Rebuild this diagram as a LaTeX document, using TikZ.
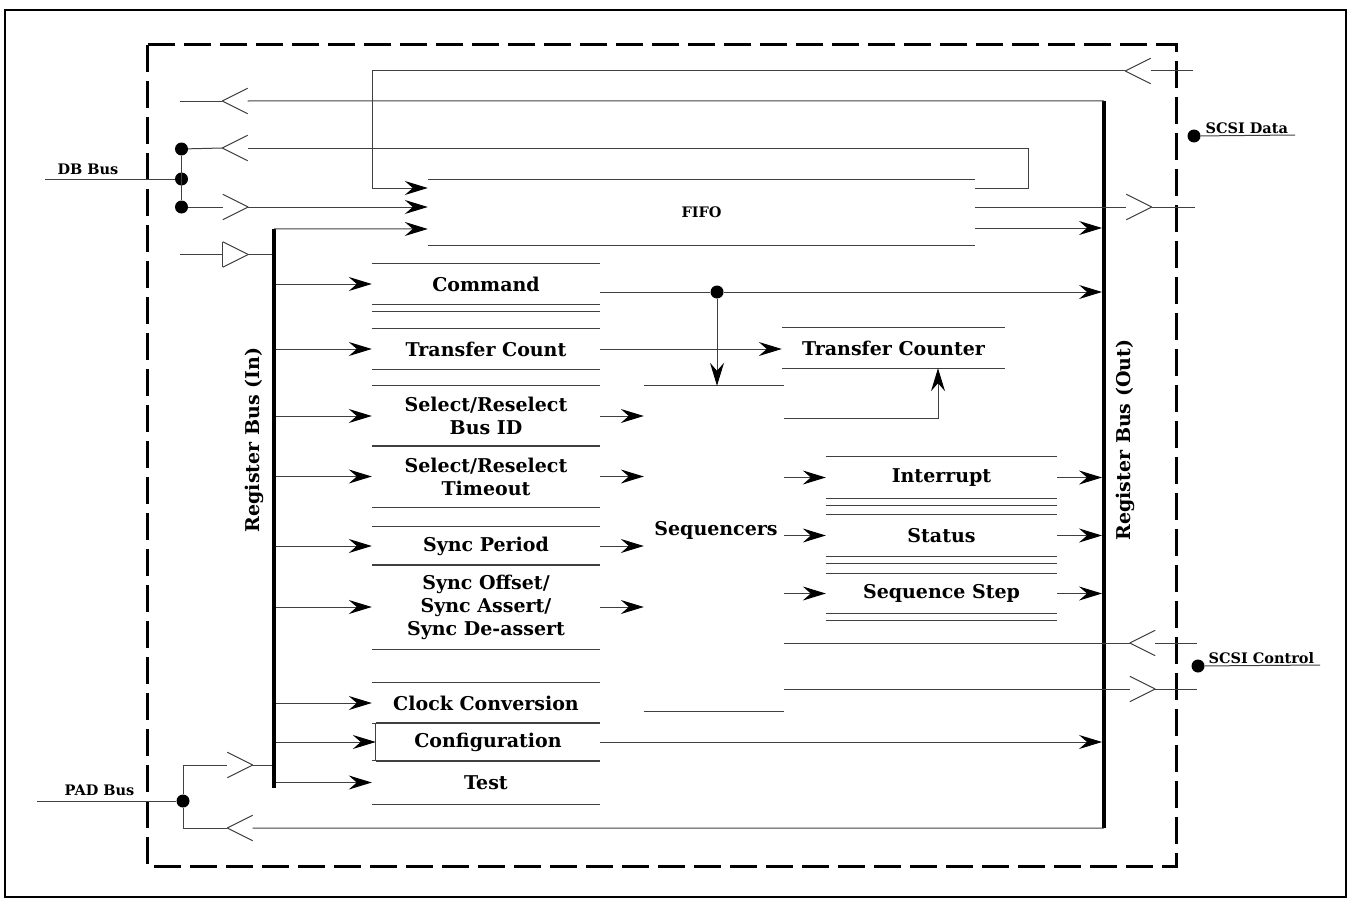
\documentclass[tikz,border=0pt]{standalone}
\usepackage{fontspec}
\setmainfont{DejaVu Serif}
\usetikzlibrary{arrows.meta}
\tikzset{
  >={Stealth[length=23pt,width=14pt,inset=8pt,black]},
  ln/.style={draw=black!75, line width=1pt},
  bus/.style={fill=black, inner sep=0pt, minimum width=3.5pt},
  tx/.style={font=\fontsize{19}{23}\selectfont\bfseries, align=center},
  sm/.style={font=\fontsize{14.5}{17}\selectfont\bfseries},
  jn/.style={circle, fill=black, inner sep=0pt, minimum size=13pt},
  rg/.style 2 args={tx, inner sep=0pt, minimum width=#1, minimum height=#2,
    append after command={(\tikzlastnode.north west) edge[ln] (\tikzlastnode.north east)
      (\tikzlastnode.south west) edge[ln] (\tikzlastnode.south east)}},
  dbl/.style={append after command={([yshift=-7pt]\tikzlastnode.south west) edge[ln] ([yshift=-7pt]\tikzlastnode.south east)}},
  bf/.style={inner sep=0pt, minimum size=25pt},
  bl/.style={bf, append after command={(\tikzlastnode.north east) edge[ln] (\tikzlastnode.west)
      (\tikzlastnode.west) edge[ln] (\tikzlastnode.south east)}},
  br/.style={bf, append after command={(\tikzlastnode.north west) edge[ln] (\tikzlastnode.east)
      (\tikzlastnode.east) edge[ln] (\tikzlastnode.south west)}},
  bc/.style={br, append after command={(\tikzlastnode.north west) edge[ln] (\tikzlastnode.south west)}}
}
\begin{document}
\begin{tikzpicture}[x=1pt, y=-1pt]
  \useasboundingbox (0,0) rectangle (1352,899);
  \draw[line width=2.5pt] (5,10) rectangle (1346,897);
  \draw[line width=3pt, dash pattern=on 27pt off 9pt] (147,45) rectangle (1176,866);

  \node[bus, minimum height=559pt] (rbi) at (274,508.5) {};
  \node[bus, minimum height=727pt] (rbo) at (1104,464.5) {};
  \node[tx, rotate=90] (rbil) at (254,440) {Register Bus (In)};
  \node[tx, rotate=90] (rbol) at (1125,440) {Register Bus (Out)};

  \node[rg={547pt}{65pt}, sm] (fifo) at (701.5,212.5) {FIFO};
  \node[rg={228pt}{40pt}, dbl] (cmd) at (486,284) {Command};
  \node[rg={228pt}{40pt}] (tcnt) at (486,349) {Transfer Count};
  \node[rg={228pt}{60pt}] (sbid) at (486,416) {Select/Reselect\\Bus ID};
  \node[rg={228pt}{61pt}] (stmo) at (486,476.5) {Select/Reselect\\Timeout};
  \node[rg={228pt}{38pt}] (sper) at (486,546) {Sync Period};
  \node[rg={228pt}{84pt}] (soff) at (486,607) {Sync Offset/\\Sync Assert/\\Sync De-assert};
  \node[rg={228pt}{40pt}] (clk) at (486,703) {Clock Conversion};
  \node[rg={224pt}{38pt}] (cfg) at (488,742) {Configuration};
  \node[rg={228pt}{43pt}] (test) at (486,782.5) {Test};
  \draw[ln] (cfg.north west) -- (cfg.south west);

  \node[rg={140pt}{325pt}] (seq) at (714,548.5) {};
  \node[tx] (seql) at (716,530) {Sequencers};
  \node[rg={223pt}{40pt}] (tctr) at (893.5,348) {Transfer Counter};
  \node[rg={231pt}{41pt}, dbl] (intr) at (941.5,477.5) {Interrupt};
  \node[rg={231pt}{41pt}, dbl] (stat) at (941.5,535.5) {Status};
  \node[rg={231pt}{39pt}, dbl] (sstp) at (941.5,593.5) {Sequence Step};

  \node[bl] (b1) at (1138,71) {};
  \node[bl] (b2) at (235,101) {};
  \node[bl] (b3) at (235,148) {};
  \node[br] (b4) at (235.5,207) {};
  \node[bc] (b5) at (235.5,254.5) {};
  \node[br] (b6) at (1139,207) {};
  \node[bl] (b7) at (1142.5,643) {};
  \node[br] (b8) at (1142.5,689) {};
  \node[bl] (b9) at (240,828) {};
  \node[br] (b10) at (240,765) {};

  \node[jn] (d1) at (181.5,149) {};
  \node[jn] (d2) at (181.5,179) {};
  \node[jn] (d3) at (181.5,207) {};
  \node[jn] (pd) at (183,801) {};
  \node[jn] (cd) at (717,292) {};
  \node[jn] (sdd) at (1194,136) {};
  \node[jn] (scd) at (1198,666) {};
  \node[sm, anchor=base] (dbbus) at (88,174) {DB Bus};
  \node[sm, anchor=base] (padbus) at (99.5,795) {PAD Bus};
  \node[sm, anchor=base west] (sdl) at (1202,133) {SCSI Data};
  \node[sm, anchor=base west] (scl) at (1205,663) {SCSI Control};

  \coordinate (dbin) at (45,179);
  \coordinate (padin) at (37,801);
  \coordinate (dbo) at (180,101);
  \coordinate (cin) at (180,254.5);
  \coordinate (sdi) at (1193,71);
  \coordinate (sdo) at (1195,207);
  \coordinate (sde) at (1295,135);
  \coordinate (sce) at (1320,665);
  \coordinate (sci) at (1197,643);
  \coordinate (sco) at (1197,689);
  \coordinate (j1) at (372,71);
  \coordinate (j2) at (1028,148);
  \coordinate (tq) at (938,418);
  \coordinate (fi1) at ([yshift=24.5pt]fifo.west);
  \coordinate (fi2) at ([yshift=5.5pt]fifo.west);
  \coordinate (fi3) at ([yshift=-16.5pt]fifo.west);
  \coordinate (fo1) at ([yshift=24.5pt]fifo.east);
  \coordinate (fo2) at ([yshift=5.5pt]fifo.east);
  \coordinate (fo3) at ([yshift=-15.5pt]fifo.east);

  \draw[ln] (sdi) -- (b1.east);
  \draw[ln,->] (b1.west) -- (j1) |- (fi1);
  \draw[ln] (rbo.north) -- (b2.east);
  \draw[ln] (b2.west) -- (dbo);
  \draw[ln] (fo1) -| (j2) -- (b3.east);
  \draw[ln] (b3.west) -- (d1);
  \draw[ln] (d1) -- (d3);
  \draw[ln] (dbin) -- (d2);
  \draw[ln] (d3) -- (b4.west);
  \draw[ln,->] (b4.east) -- (fi2);
  \draw[ln] (cin) -- (b5.west);
  \draw[ln] (b5.east) -- (b5.east -| rbi.west);
  \draw[ln,->] (rbi.north) -- (fi3);
  \draw[ln] (fo2) -- (b6.west);
  \draw[ln] (b6.east) -- (sdo);
  \draw[ln,->] (fo3) -- (fo3 -| rbo.west);
  \draw[ln] (sdd) -- (sde);
  \draw[ln] (scd) -- (sce);

  \foreach \n in {cmd,tcnt,sbid,stmo,sper,soff,clk,cfg,test}
    \draw[ln,->] (rbi.east |- \n.west) -- (\n.west);
  \draw[ln,->] (cmd.east |- cd) -- (cd) -- (cd -| rbo.west);
  \draw[ln,->] (cd) -- (cd |- seq.north);
  \draw[ln,->] (tcnt.east) -- (tcnt.east -| tctr.west);
  \foreach \n in {sbid,stmo,sper,soff}
    \draw[ln,->] (\n.east) -- (\n.east -| seq.west);
  \draw[ln,->] (seq.east |- tq) -- (tq) -- (tq |- tctr.south);
  \foreach \n in {intr,stat,sstp}{
    \draw[ln,->] (seq.east |- \n.west) -- (\n.west);
    \draw[ln,->] (\n.east) -- (\n.east -| rbo.west);
  }
  \draw[ln] (sci) -- (b7.east);
  \draw[ln] (b7.west) -- (b7.west -| seq.east);
  \draw[ln] (b8.west -| seq.east) -- (b8.west);
  \draw[ln] (b8.east) -- (sco);
  \draw[ln,->] (cfg.east) -- (cfg.east -| rbo.west);
  \draw[ln] (rbo.south) -- (b9.east);
  \draw[ln] (b9.west) -| (pd);
  \draw[ln] (pd) |- (b10.west);
  \draw[ln] (b10.east) -- (b10.east -| rbi.west);
  \draw[ln] (padin) -- (pd);
\end{tikzpicture}
\end{document}
